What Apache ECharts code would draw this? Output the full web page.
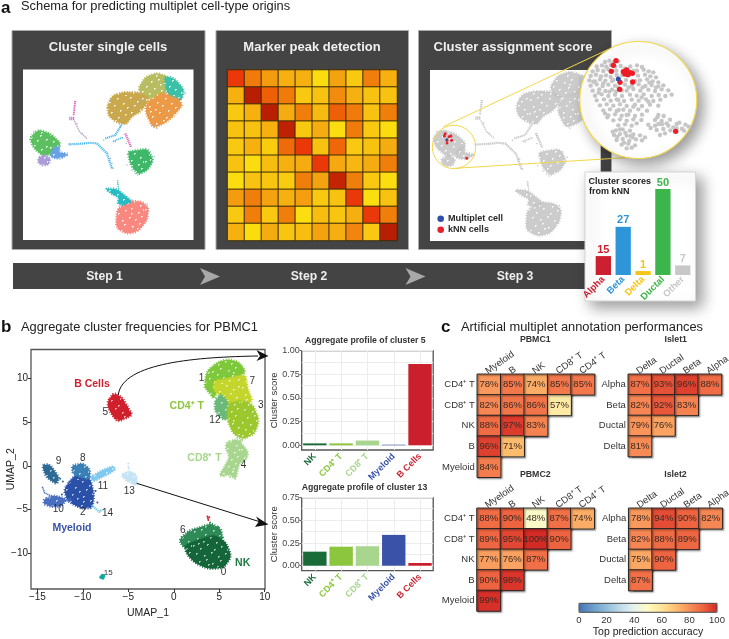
<!DOCTYPE html>
<html><head><meta charset="utf-8">
<style>html,body{margin:0;padding:0;background:#fff}#c{width:729px;height:639px}</style>
<script src="https://cdn.jsdelivr.net/npm/echarts@6/dist/echarts.min.js"></script></head>
<body><div id="c"></div>
<script>
const FONT='"Liberation Sans",Arial,sans-serif';
/* ---------- panel a: UMAP silhouettes (picture coordinates of the schematic) ---------- */
const schemaOutlines=[
{c:'#b7bd60',pts:[[414,264],[436,230],[470,218],[500,228],[504,262],[492,282],[460,294],[428,296]]},
{c:'#3cc0a8',pts:[[493,228],[522,234],[552,268],[545,298],[522,310],[503,284],[496,260]]},
{c:'#ec9a48',pts:[[440,306],[490,276],[510,288],[532,294],[548,315],[518,350],[492,370],[458,384],[436,338]]},
{c:'#c9a84e',pts:[[320,320],[336,286],[370,276],[412,276],[444,290],[444,304],[422,334],[394,350],[378,374],[348,366],[326,349]]},
{c:'#5cc060',pts:[[88,414],[113,388],[152,401],[182,430],[168,454],[130,470],[100,444]]},
{c:'#a99cd8',pts:[[113,475],[130,464],[150,474],[146,493],[128,497],[114,489]]},
{c:'#6aa0e8',pts:[[163,438],[180,443],[174,456],[208,462],[177,477],[148,470]]},
{c:'#3fb86a',pts:[[382,456],[405,451],[442,446],[460,480],[443,509],[415,524],[392,497]]},
{c:'#f98880',pts:[[350,625],[390,601],[427,606],[446,625],[440,662],[413,695],[380,702],[347,684]]},
{c:'#26bcc2',pts:[[314,566],[345,566],[362,576],[396,604],[372,615],[352,612],[356,592],[338,584]]},
{c:'#4ab9f0',line:1,w:2.2,pts:[[205,433],[240,431],[270,428],[290,430],[320,460],[335,505]]},
{c:'#4ab9f0',line:1,w:2,pts:[[315,415],[345,405],[365,372]]},
{c:'#4ab9f0',line:1,w:1.6,pts:[[338,424],[352,418],[368,412]]},
{c:'#d765b8',line:1,w:2,pts:[[225,302],[220,345]]},
{c:'#c57ac0',line:1,w:3.5,pts:[[207,355],[222,355]]},
{c:'#c09ac0',line:1,w:1.4,pts:[[222,362],[238,395],[260,415]]},
{c:'#d765b8',line:1,w:2.4,pts:[[375,400],[393,442]]},
{c:'#26bcc2',line:1,w:1.2,pts:[[352,540],[356,575]]}
];
const schemaStrays=[[380,495],[395,510],[405,520],[462,378],[335,490],[338,505],[440,612],[230,370],[245,400],[172,435],[358,372],[378,430],[352,552],[412,525],[330,475],[345,425],[208,432],[460,370],[310,420],[425,300],[415,310],[555,280],[470,385],[330,300],[360,380],[150,480],[100,395],[450,455],[462,470]];
const a3RedCells=[[123,401],[121,408],[134,410],[139,408],[128,420],[141,420],[128,428],[183,473]];
const a3BlueCell=[[128,418]];
const zoomGrayCells=[[615,186],[628,182],[640,188],[655,184],[590,199],[606,196],[619,200],[633,195],[662,198],[691,199],[711,196],[726,201],[578,214],[593,210],[610,213],[625,208],[649,212],[711,212],[731,209],[746,214],[760,217],[572,228],[588,224],[603,229],[618,226],[632,231],[666,226],[714,227],[735,224],[751,229],[768,232],[568,241],[585,244],[600,238],[616,242],[636,243],[678,240],[720,241],[741,238],[758,244],[775,247],[572,257],[590,253],[608,258],[625,254],[645,257],[675,254],[696,257],[716,253],[736,258],[755,255],[775,259],[790,256],[578,272],[598,268],[616,273],[636,269],[680,272],[700,267],[721,272],[745,269],[765,273],[785,268],[805,271],[585,287],[605,283],[625,288],[645,284],[666,288],[690,284],[710,287],[731,283],[755,288],[776,285],[796,288],[815,284],[590,301],[612,298],[632,302],[650,298],[672,303],[695,299],[716,302],[738,298],[760,303],[781,299],[600,316],[620,313],[640,317],[660,313],[680,318],[705,314],[726,318],[750,314],[775,317],[610,331],[630,328],[650,333],[670,329],[690,332],[715,328],[741,332],[625,346],[645,343],[665,347],[685,344],[705,348],[726,344],[775,345],[791,348],[640,361],[660,358],[680,362],[700,358],[765,360],[785,363],[810,359],[655,376],[675,373],[695,377],[745,374],[765,377],[786,373],[805,377],[830,372],[856,374],[648,391],[668,388],[690,392],[770,390],[790,387],[811,391],[846,386],[866,380],[642,405],[660,402],[680,407],[700,403],[720,406],[650,420],[668,417],[688,422],[708,418],[726,421],[665,434],[685,431],[705,436],[680,445],[695,443],[638,395],[652,410],[735,412],[752,384],[775,372],[830,385],[838,368],[622,352],[615,340],
[645,200],[675,205],[700,212],[650,225],[640,240],[655,262],[665,272],[648,275],[686,262],[706,243],[728,262],[748,248],[610,250],[596,278],[580,245],[628,275],[655,300],[700,320],[725,292],[745,305],[768,262],[656,330],[680,345],[710,370],[724,360],[660,388],[676,398],[698,412],[672,428],[692,408],[772,352],[800,370],[820,382],[852,392],[795,400],[780,405]];
const zoomRedCells=[[648,182],[640,196],[634,214],[670,215],[680,210],[690,218],[675,222],[684,224],[697,220],[660,247],[698,246],[659,268],[827,394]];
const zoomBlueCell=[[655,237]];
/* ---------- panel a: marker heatmap ---------- */
const markerMatrix=[
[80,60,45,35,35,10,42,22,58,35],
[35,95,68,60,22,25,52,35,25,25],
[22,35,95,38,58,30,68,60,25,58],
[25,25,35,92,22,38,8,60,22,10],
[22,35,20,65,80,25,66,22,25,38],
[25,10,28,35,38,80,40,32,38,58],
[10,25,24,20,58,42,90,58,22,8],
[45,58,42,35,44,22,25,80,8,25],
[22,58,22,58,8,28,24,36,80,58],
[35,10,38,24,28,42,36,55,22,95]];
/* ---------- panel a: kNN card ---------- */
const knnCats=['Alpha','Beta','Delta','Ductal','Other'];
const knnLabels=[15,27,1,50,7];
const knnHeights=[11,28,2.3,50,5.6];
const knnColors=['#cc2030','#2e96d8','#f5c518','#3cb54a','#c8c8c8'];
/* ---------- panel b: UMAP clusters ---------- */
const umapOutlines=[
{c:'#7ec83c',pts:[[3.35,9.0],[3.6,10.8],[4.8,11.85],[5.96,12.2],[7.2,11.85],[7.9,10.8],[7.4,10.2],[6.5,9.6],[5.5,9.2],[4.8,8.6],[4.4,7.6],[3.7,8.6]]},
{c:'#c4d62c',pts:[[4.4,9.7],[6,10],[7.9,10.5],[8.1,8.9],[8.7,7.4],[7.5,6.9],[6.3,6.9],[5.2,7.9],[4.4,8.65]]},
{c:'#6ab87a',pts:[[4.5,7.4],[5.2,8.3],[6.1,7],[6.5,5.5],[5.4,5.2],[4.5,6.3]]},
{c:'#9cc82e',pts:[[5.9,7.1],[7.4,7.5],[8.7,7],[9.4,5.2],[8.9,3.7],[7.6,3.0],[6.5,3.7],[5.9,5.2]]},
{c:'#a8d68e',pts:[[5.8,2.7],[7,3.1],[8.2,1.6],[8,.7],[7.2,.3],[6.8,-1.6],[6.2,-1],[4.9,-1.25],[5.8,.3],[6.1,1],[5.7,2]]},
{c:'#d0202c',pts:[[-7.25,7.4],[-6.6,8.35],[-5.7,7.85],[-5.1,6.8],[-4.5,5.8],[-6.2,5.0],[-6.85,5.9],[-7.25,6.7]]},
{c:'#2e8b57',pts:[[.55,-8.5],[1.65,-7.4],[3,-7],[4.1,-6.6],[5.2,-7.2],[5.4,-8.6],[4.5,-8.3],[3,-8.7],[1.9,-9.4],[1.1,-9.4]]},
{c:'#14653a',pts:[[1.2,-9.1],[3,-8.35],[4.5,-7.9],[5.75,-8.75],[6.35,-10.4],[5.5,-11.7],[3.75,-11.8],[2.35,-11.15],[1.4,-10.1]]},
{c:'#2b50a8',pts:[[-12.1,-2.7],[-11.1,-1.3],[-10.4,-.85],[-9.15,-1.5],[-8.75,-3.35],[-8.95,-4.85],[-10.2,-4.9],[-11.7,-4.05]]},
{c:'#3a7fb5',pts:[[-11.2,.05],[-10,.3],[-9.2,-.4],[-9.2,-1.6],[-10.4,-1.3],[-11.15,-.85]]},
{c:'#2d6a94',pts:[[-14.5,.05],[-13.65,.2],[-12.6,-1.3],[-12.85,-2.15],[-14.05,-1.3]]},
{c:'#4a6fc0',pts:[[-14.3,-3.85],[-13.2,-3.35],[-11.8,-3.8],[-12.3,-4.65],[-13.5,-4.7],[-14.3,-4.4]]},
{c:'#4a6fc0',line:1,w:1.6,pts:[[-14.45,-2.4],[-14.2,-3.1],[-13.2,-3.6]]},
{c:'#4a6fc0',line:1,w:3,pts:[[-12,-4],[-11.3,-3.8]]},
{c:'#7fc8ee',pts:[[-9.2,-1.35],[-8,-.55],[-6.6,0],[-6.4,-.5],[-8,-1.4],[-8.85,-1.8]]},
{c:'#6cc6e0',line:1,w:2.2,pts:[[-9.04,-4.5],[-8.2,-5.26],[-7.83,-5]]},
{c:'#c4e4f5',pts:[[-5.85,-1.1],[-4.9,-.55],[-4.05,-1.07],[-4.05,-2.35],[-5.15,-1.75]]},
{c:'#a8d68e',line:1,w:3,pts:[[7.6,3.2],[7.2,2.5]]}
];
const umapStrayCells=[[{c:'#d0202c'},[3.75,-6],[3.8,-6.2],[3.9,-5.9],[3.7,-5.8]],[{c:'#10a8a0'},[-7.9,-12.7],[-7.7,-12.6],[-8,-12.75],[-7.8,-12.85],[-7.85,-12.55]],[{c:'#c4e4f5'},[-5,.25],[-5,-.1],[-4.95,-.3]],[{c:'#a8d68e'},[7.3,2.9],[7,3.2],[6.2,-1.3],[5.5,-1.2]],[{c:'#2e8b57'},[4,-6.5],[4.9,-7],[5.4,-8.2],[1.4,-7.9]],[{c:'#2b50a8'},[-11.5,-1.9],[-8.4,-4.2],[-8.6,-2.9],[-12.3,-3.3]],[{c:'#2d6a94'},[-12.5,-1.5],[-12.2,-1.8],[-14.1,-.5]]];
const umapXTicks=[-15,-10,-5,0,5,10];
const umapYTicks=[-10,-5,0,5,10];
const clusterNumbers=[['1',3.05,9.98],['7',8.64,9.68],['3',9.56,6.93],['12',4.52,5.22],['4',7.68,.08],['5',-7.54,6.17],['9',-12.68,.57],['8',-10,.84],['11',-7.8,-2.29],['13',-4.9,-2.9],['10',-12.7,-4.99],['2',-10,-5.37],['14',-7.28,-5.45],['6',1,-7.43],['0',5.48,-12.19],['15',-7.2,-12.19]];
const clusterGroups=[['B Cells',-9,9.33,'#d0202c'],['CD4⁺ T',1.43,6.82,'#8cc63f'],['CD8⁺ T',3.38,.84,'#a8d68e'],['Myeloid',-11.2,-7.1,'#3a52a8'],['NK',7.57,-11.1,'#1f7a43']];
/* ---------- panel b: aggregate profiles ---------- */
const profileCats=['NK','CD4⁺ T','CD8⁺ T','Myeloid','B Cells'];
const profileColors=['#1a6b3a','#8cc63f','#a8d68e','#3a52a8','#cc1f2d'];
const profile5=[.02,.02,.05,.006,.86];
const profile13=[.155,.21,.215,.34,.03];
const profile5Ticks=[0,.25,.5,.75,1];
const profile13Ticks=[0,.25,.5,.75];
const profile5Minor=[.125,.375,.625,.875];
const profile13Minor=[.125,.375,.625];
/* ---------- panel c: accuracy triangles ---------- */
const pbmcRows=['CD4⁺ T','CD8⁺ T','NK','B','Myeloid'];
const pbmcCols=['Myeloid','B','NK','CD8⁺ T','CD4⁺ T'];
const isletRows=['Alpha','Beta','Ductal','Delta'];
const isletCols=['Delta','Ductal','Beta','Alpha'];
const pbmc1=[[78,85,74,85,85],[82,86,86,57],[88,97,83],[96,71],[84]];
const pbmc2=[[88,90,48,87,74],[89,95,100,90],[77,76,87],[90,98],[99]];
const islet1=[[87,93,96,88],[82,92,83],[79,76],[81]];
const islet2=[[78,94,90,82],[82,88,89],[75,90],[87]];

/* ---------- build ---------- */
const grids=[],xAxes=[],yAxes=[],series=[],g=[];
/* fixed speckle holes of the cell-cloud texture */
const speckleHoles=[[2,3],[9,1],[13,6],[21,2],[27,7],[34,1],[41,5],[46,2],[5,10],[11,13],[18,9],[24,14],[31,11],[38,9],[44,13],[1,17],[8,20],[15,16],[22,21],[29,18],[35,16],[42,20],[47,17],[4,25],[12,27],[19,24],[26,28],[33,25],[39,27],[45,24],[7,33],[14,31],[20,35],[28,32],[36,34],[43,31],[2,38],[10,40],[17,42],[25,38],[31,41],[40,39],[46,43],[5,45],[13,46],[22,45],[29,47],[37,44],[16,36],[35,21],[6,15],[41,36]];
const patCache={};
function speck(color,strength){const key=color+strength;if(patCache[key])return patCache[key];
 const cv=document.createElement('canvas');cv.width=cv.height=48;const x=cv.getContext('2d');x.fillStyle=color;x.fillRect(0,0,48,48);
 x.fillStyle='rgba(255,255,255,'+strength+')';speckleHoles.forEach(h=>{x.fillRect(h[0],h[1],2,1);x.fillRect(h[0],h[1]+1,1,1);});
 return patCache[key]={image:cv,repeat:'repeat'};}
function round(pts){const f=.17;let p=pts;for(let it=0;it<2;it++){const o=[];p.forEach((a,j)=>{const b=p[(j+1)%p.length];o.push([(1-f)*a[0]+f*b[0],(1-f)*a[1]+f*b[1]],[f*a[0]+(1-f)*b[0],f*a[1]+(1-f)*b[1]]);});p=o;}return p;}
function hiddenGrid(l,t,w,h,xr,yr,inv){grids.push({left:l,top:t,width:w,height:h,show:false,outerBoundsMode:'none'});const i=grids.length-1;
 xAxes.push({type:'value',gridIndex:i,min:xr[0],max:xr[1],show:false});
 yAxes.push({type:'value',gridIndex:i,min:yr[0],max:yr[1],inverse:!!inv,show:false});return i;}
function shapes(list,i,z,strength,gray){series.push({type:'custom',xAxisIndex:i,yAxisIndex:i,z,silent:true,clip:false,data:list.map((s,k)=>[k]),encode:{},
 renderItem:(p,api)=>{const s=list[p.dataIndex],c=gray||s.c,pts=s.pts.map(q=>api.coord(q));
  return s.line?{type:'polyline',shape:{points:pts},style:{stroke:c,lineWidth:s.w,lineDash:[1.2,.7],fill:null}}
   :{type:'polygon',shape:{points:round(pts)},style:{fill:speck(c,strength),stroke:c,lineWidth:2.4,lineDash:[1,1.6],opacity:gray?.85:1}};}});}
function dots(data,i,z,size,color,op){series.push({type:'scatter',xAxisIndex:i,yAxisIndex:i,z,silent:true,symbolSize:size,data,itemStyle:{color,opacity:op==null?1:op}});}
function txt(x,y,text,font,fill,align,z,extra){g.push(Object.assign({type:'text',silent:true,z:z||1,style:{x,y,text,font:font+' '+FONT,fill,align:align||'left',verticalAlign:'middle'}},extra||{}));}
function rect(x,y,w,h,fill,z,stroke,extra){g.push(Object.assign({type:'rect',silent:true,z:z||0,shape:{x,y,width:w,height:h},style:Object.assign({fill,stroke:stroke||null,lineWidth:stroke?1:0},extra||{})}));}

/* headers */
txt(1,8,'a','bold 17px','#111');txt(21,6,'Schema for predicting multiplet cell-type origins','12.85px','#222');
txt(1,327,'b','bold 17px','#111');txt(21,327,'Aggregate cluster frequencies for PBMC1','12.85px','#222');
txt(441,327,'c','bold 17px','#111');txt(461,327,'Artificial multiplet annotation performances','12.85px','#222');

/* panels */
[[12,193,'Cluster single cells',108],[216,192.5,'Marker peak detection',312],[418.5,193,'Cluster assignment score',513]].forEach(p=>{
 rect(p[0],30.5,p[1],219,'#444',0,'#aaa');txt(p[3],47,p[2],'bold 13px','#f0f0f0','center',1);});
rect(23,69.5,170.5,170.5,'#fff',0);rect(430,70,170.7,171,'#fff',0);
rect(13,263,598,26,'#444',0);
[['Step 1',104.5],['Step 2',309],['Step 3',515]].forEach(s=>txt(s[1],276.5,s[0],'bold 12.2px','#eee','center',1));
[200,405.5].forEach(x=>g.push({type:'polygon',silent:true,z:1,shape:{points:[[x,268],[x+20,276.5],[x,285],[x+5,276.5]]},style:{fill:'#a8a8a8'}}));
rect(227,69.5,170.5,171.5,'#2b2b2b',0);

/* a1 */
let i=hiddenGrid(23,69.5,170.5,170.5,[68,580],[208,720],true);
shapes(schemaOutlines,i,2,.75);dots(schemaStrays,i,2,1.6,'#8ab0d0',.8);
/* a2 */
grids.push({left:227.5,top:70,width:169.5,height:170.5,show:false,outerBoundsMode:'none'});let a2=grids.length-1;
xAxes.push({type:'category',gridIndex:a2,show:false,data:markerMatrix.map((_,k)=>k)});
yAxes.push({type:'category',gridIndex:a2,show:false,inverse:true,data:markerMatrix.map((_,k)=>k)});
const a2Data=[];markerMatrix.forEach((r,y)=>r.forEach((v,x)=>a2Data.push([x,y,v])));
series.push({type:'heatmap',xAxisIndex:a2,yAxisIndex:a2,z:2,silent:true,data:a2Data,itemStyle:{borderColor:'#3a2e0c',borderWidth:1}});
const a2Index=series.length-1;
/* a3 */
i=hiddenGrid(430,70,170.7,171,[81,555],[214,716],true);
shapes(schemaOutlines,i,3,.8,'#c4c4c4');dots(schemaStrays,i,3,1.6,'#c9c9c9');dots(a3RedCells,i,3,3,'#e8202a');dots(a3BlueCell,i,3,2.4,'#3050a8');
[['Multiplet cell',218.7,'#3050a8'],['kNN cells',229.7,'#e8202a']].forEach(l=>{g.push({type:'circle',silent:true,z:4,shape:{cx:440.7,cy:l[1],r:3.3},style:{fill:l[2]}});txt(448,l[1],l[0],'bold 9.1px','#2a2a2a','left',4);});
/* magnifier */
g.push({type:'circle',silent:true,z:4,shape:{cx:454,cy:147,r:21.7},style:{fill:null,stroke:'#f3d84a',lineWidth:1}});
g.push({type:'line',silent:true,z:4,shape:{x1:443.3,y1:126.7,x2:608,y2:49.5},style:{stroke:'#f3d84a',lineWidth:1}});
g.push({type:'line',silent:true,z:4,shape:{x1:455,y1:168.3,x2:630,y2:157.4},style:{stroke:'#f3d84a',lineWidth:1}});
g.push({type:'circle',silent:true,z:4,shape:{cx:638.3,cy:100,r:58.5},style:{fill:'#fff',stroke:'#f3d84a',lineWidth:1.2,shadowBlur:14,shadowOffsetX:6,shadowOffsetY:6,shadowColor:'rgba(0,0,0,.4)'}});
i=hiddenGrid(580,41.67,116.67,116.67,[540,890],[125,475],true);
dots(zoomGrayCells,i,5,4.4,'#c6c6c6');dots(zoomRedCells,i,5,5.4,'#ee1c25');dots(zoomBlueCell,i,5,5,'#3050a8');
/* kNN card */
rect(585,172,110.5,129,'#fff',6,'#d5d5d5',{shadowBlur:14,shadowOffsetX:6,shadowOffsetY:6,shadowColor:'rgba(0,0,0,.4)'});
txt(588.5,182,'Cluster scores','bold 9px','#222','left',7);txt(589,192,'from kNN','bold 9px','#222','left',7);
grids.push({left:593.4,top:189,width:99.3,height:86,show:false,outerBoundsMode:'none'});let kg=grids.length-1;
xAxes.push({type:'category',gridIndex:kg,z:7,data:knnCats.map((v,k)=>({value:v,textStyle:{color:knnColors[k]}})),axisLine:{show:false},axisTick:{show:false},axisLabel:{interval:0,rotate:45,margin:3,fontSize:9.5,fontWeight:'bold',fontFamily:FONT}});
yAxes.push({type:'value',gridIndex:kg,z:7,min:0,max:50,show:false});
series.push({type:'bar',xAxisIndex:kg,yAxisIndex:kg,z:7,silent:true,barCategoryGap:'23%',data:knnHeights.map((v,k)=>({value:v,itemStyle:{color:knnColors[k]},label:{color:knnColors[k]}})),
 label:{show:true,position:'top',distance:1,fontSize:11,fontWeight:'bold',fontFamily:FONT,formatter:p=>String(knnLabels[p.dataIndex])}});

/* b main */
const minus=v=>String(v).replace('-','−');
const nameS=(s)=>({fontSize:s,color:'#222',fontFamily:FONT});
grids.push({left:31,top:349.5,width:234,height:239.5,show:true,borderColor:'#555',borderWidth:1.3,backgroundColor:'transparent',outerBoundsMode:'none'});let bg=grids.length-1;
xAxes.push({type:'value',gridIndex:bg,min:-15.7,max:10.03,name:'UMAP_1',nameLocation:'middle',nameGap:18.7,nameMoveOverlap:false,nameTextStyle:nameS(10.5),splitLine:{show:false},axisLine:{show:false,onZero:false},
 axisTick:{show:true,length:3,lineStyle:{color:'#333'},customValues:umapXTicks},axisLabel:{fontSize:10,color:'#222',margin:3,fontFamily:FONT,formatter:minus,customValues:umapXTicks,showMinLabel:true,showMaxLabel:true}});
yAxes.push({type:'value',gridIndex:bg,min:-14.1,max:13.3,name:'UMAP_2',nameLocation:'middle',nameGap:14,nameMoveOverlap:false,nameTextStyle:nameS(10.5),splitLine:{show:false},axisLine:{show:false,onZero:false},
 axisTick:{show:true,length:3,lineStyle:{color:'#333'},customValues:umapYTicks},axisLabel:{fontSize:10,color:'#222',margin:3,fontFamily:FONT,formatter:minus,customValues:umapYTicks}});
shapes(umapOutlines,bg,2,.6);
umapStrayCells.forEach(s=>dots(s.slice(1),bg,2,s[0].c==='#10a8a0'?3.5:2,s[0].c));
series.push({type:'scatter',xAxisIndex:bg,yAxisIndex:bg,z:3,silent:true,symbolSize:0,itemStyle:{opacity:1},data:clusterNumbers.map(n=>({value:[n[1],n[2]],label:{formatter:n[0],fontSize:n[0]==='15'?8:10}})),label:{show:true,position:'inside',color:'#333',fontFamily:FONT}});
series.push({type:'scatter',xAxisIndex:bg,yAxisIndex:bg,z:3,silent:true,symbolSize:0,itemStyle:{opacity:1},data:clusterGroups.map(n=>({value:[n[1],n[2]],label:{formatter:n[0],color:n[3]}})),label:{show:true,position:'inside',fontSize:10.5,fontWeight:'bold',fontFamily:FONT}});
/* arrows */
g.push({type:'bezierCurve',silent:true,z:6,shape:{x1:118.3,y1:395,cpx1:122,cpy1:362,cpx2:200,cpy2:357,x2:258,y2:356},style:{stroke:'#111',lineWidth:1,fill:null}});
g.push({type:'polygon',silent:true,z:6,shape:{points:[[268.5,356],[256.5,350],[260,356],[256.5,361]]},style:{fill:'#111'}});
g.push({type:'line',silent:true,z:6,shape:{x1:136.7,y1:483.3,x2:259,y2:521.5},style:{stroke:'#111',lineWidth:1}});
g.push({type:'polygon',silent:true,z:6,shape:{points:[[268.5,524.5],[256,516.5],[258.8,521.5],[255,527]]},style:{fill:'#111'}});

/* b profiles */
function profile(top,h,ymin,ymax,vals,ticks,minor,title,tx,ty){
 grids.push({left:301.7,top,width:131.5,height:h,show:true,borderColor:'#555',borderWidth:1.3,backgroundColor:'transparent',outerBoundsMode:'none'});const k=grids.length-1;
 xAxes.push({type:'category',gridIndex:k,data:profileCats.map((v,j)=>({value:v,textStyle:{color:profileColors[j]}})),axisLine:{show:false,onZero:false},axisTick:{show:false},axisLabel:{interval:0,rotate:45,margin:5,fontSize:9,fontWeight:'bold',fontFamily:FONT}});
 yAxes.push({type:'value',gridIndex:k,min:ymin,max:ymax,name:'Cluster score',nameLocation:'middle',nameGap:22.7,nameMoveOverlap:false,nameTextStyle:{fontSize:9.5,color:'#333',fontFamily:FONT},axisLine:{show:false,onZero:false},
  axisTick:{show:true,length:2,lineStyle:{color:'#555'},customValues:ticks},splitLine:{show:false},axisLabel:{fontSize:9,margin:2,color:'#444',fontFamily:FONT,customValues:ticks,formatter:v=>v.toFixed(2)}});
 series.push({type:'line',xAxisIndex:k,yAxisIndex:k,z:1,silent:true,data:[],markLine:{z:1,silent:true,symbol:'none',label:{show:false},animation:false,lineStyle:{color:'#ececec',width:1,type:'solid'},
  data:ticks.concat(minor).map(v=>({yAxis:v})).concat(profileCats.map(c=>({xAxis:c})))}});
 series.push({type:'bar',xAxisIndex:k,yAxisIndex:k,z:2,silent:true,barCategoryGap:'11%',data:vals.map((v,j)=>({value:v,itemStyle:{color:profileColors[j]}}))});
 txt(tx,ty,title,'bold 8.7px','#333');
}
profile(350.7,99.3,-.05,1,profile5,profile5Ticks,profile5Minor,'Aggregate profile of cluster 5',305,340.5);
profile(497.7,73,-.055,.75,profile13,profile13Ticks,profile13Minor,'Aggregate profile of cluster 13',301.7,487.7);

/* c */
const cIdx=[];
function tri(l,t,w,h,rows,cols,vals,title,tc,ty){
 grids.push({left:l,top:t,width:w,height:h,show:false,outerBoundsMode:'none'});const k=grids.length-1;
 xAxes.push({type:'category',gridIndex:k,position:'top',data:cols,axisLine:{show:false},axisTick:{show:false},axisLabel:{interval:0,rotate:-35,margin:4,padding:[0,0,0,-3],fontSize:9.5,color:'#333',fontFamily:FONT}});
 yAxes.push({type:'category',gridIndex:k,inverse:true,data:rows,axisLine:{show:false},axisTick:{show:false},axisLabel:{interval:0,margin:2.5,fontSize:9.5,color:'#333',fontFamily:FONT}});
 const d=[];vals.forEach((r,y)=>r.forEach((v,x)=>d.push([x,y,v])));
 series.push({type:'heatmap',xAxisIndex:k,yAxisIndex:k,z:2,silent:true,data:d,itemStyle:{borderColor:'#222',borderWidth:1,shadowColor:'rgba(0,0,0,.45)',shadowBlur:1.5,shadowOffsetX:1.2,shadowOffsetY:1.2},
  label:{show:true,fontSize:9.5,color:'#3a2a22',fontFamily:FONT,formatter:p=>p.value[2]+'%'}});
 cIdx.push(series.length-1);txt(tc,ty,title,'bold 8.8px','#333','center',3);
}
tri(477.3,374.3,117.3,103,pbmcRows,pbmcCols,pbmc1,'PBMC1',535.3,340);
tri(628.3,374.3,93.3,82.3,isletRows,isletCols,islet1,'Islet1',675.7,340);
tri(477,508.3,117.3,102.7,pbmcRows,pbmcCols,pbmc2,'PBMC2',535.3,475);
tri(628.7,508.3,93.7,82.3,isletRows,isletCols,islet2,'Islet2',675.5,475);
/* colour bar axis */
grids.push({left:579,top:603.3,width:138,height:9,show:false,outerBoundsMode:'none'});let cb=grids.length-1;
xAxes.push({type:'value',gridIndex:cb,min:0,max:100,interval:20,axisLine:{show:false,onZero:false},axisTick:{show:false},splitLine:{show:false},name:'Top prediction accuracy',nameLocation:'middle',nameGap:14.7,nameMoveOverlap:false,nameTextStyle:nameS(10.5),axisLabel:{fontSize:9.5,margin:3,color:'#333',fontFamily:FONT,showMinLabel:true,showMaxLabel:true}});
yAxes.push({type:'value',gridIndex:cb,min:0,max:1,show:false});
rect(579,603.3,138,9,'rgba(0,0,0,0)',8,'#444');

const chart=echarts.init(document.getElementById('c'),null,{renderer:'canvas'});
chart.setOption({animation:false,backgroundColor:'#fff',textStyle:{fontFamily:FONT},grid:grids,xAxis:xAxes,yAxis:yAxes,series,graphic:{elements:g},
 visualMap:[
 {show:false,min:0,max:100,seriesIndex:a2Index,dimension:2,inRange:{color:['#fde410','#fbdc0f','#f9cc10','#f7ba10','#f5a810','#f29010','#f07a0a','#ee5a08','#ea3808','#c42404','#ac1a00']}},
 {show:true,type:'continuous',min:0,max:100,seriesIndex:cIdx,dimension:2,orient:'horizontal',left:579,top:603.3,itemWidth:9,itemHeight:138,text:null,calculable:false,showLabel:false,hoverLink:false,padding:0,
  inRange:{color:['#4575b4','#6b9ccb','#91bfdb','#c0dcea','#e6f3ee','#fffbbf','#fee39a','#fdc070','#f88f58','#ee6340','#d42a26']}}
 ]});
</script></body></html>
